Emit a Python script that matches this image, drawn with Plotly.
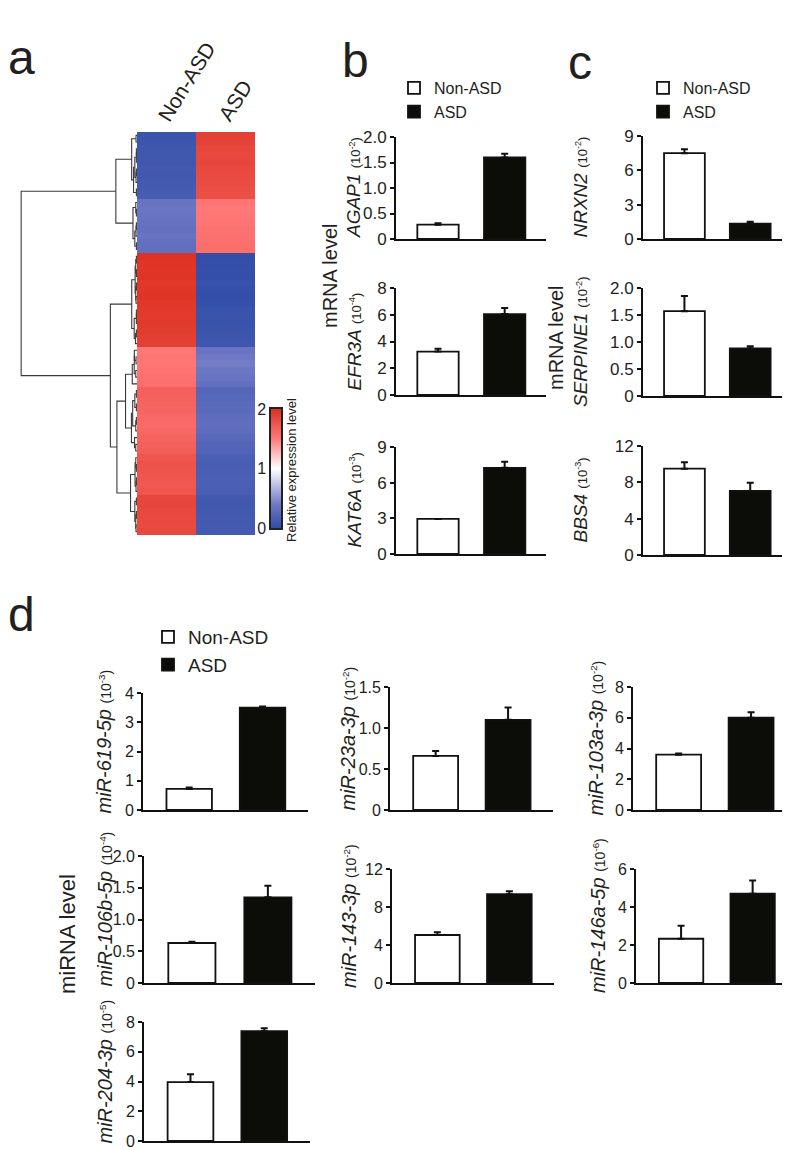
import numpy as np
import plotly.graph_objects as go

W, H = 790, 1150
FONT = "Arial, Liberation Sans, Helvetica, sans-serif"
TXT = "#231f20"
INK = "#111111"

# ---------------- data ----------------
groups = ["Non-ASD", "ASD"]

# heatmap: relative expression level per gene (rows, display order)
heat_nonasd = [0.08, 0.09, 0.10, 0.11, 0.10, 0.12, 0.11, 0.13, 0.14, 0.15,
               0.36, 0.38, 0.37, 0.35, 0.34, 0.36, 0.33, 0.32,
               1.97, 1.96, 1.95, 1.96, 1.94, 1.95, 1.96, 1.94, 1.93, 1.92, 1.93, 1.91, 1.90, 1.88,
               1.50, 1.52, 1.51, 1.53, 1.55, 1.57,
               1.66, 1.65, 1.64, 1.63, 1.60, 1.59, 1.61, 1.64, 1.66, 1.68,
               1.74, 1.76, 1.75, 1.73, 1.72, 1.74,
               1.84, 1.85, 1.83, 1.82, 1.81, 1.83]
heat_asd = [1.88, 1.86, 1.84, 1.83, 1.84, 1.82, 1.81, 1.80, 1.79, 1.78,
            1.52, 1.50, 1.51, 1.53, 1.54, 1.55, 1.56, 1.57,
            0.02, 0.03, 0.04, 0.03, 0.05, 0.04, 0.03, 0.04, 0.06, 0.07, 0.06, 0.08, 0.09, 0.10,
            0.36, 0.40, 0.42, 0.39, 0.37, 0.33,
            0.24, 0.25, 0.27, 0.28, 0.30, 0.31, 0.29, 0.26, 0.24, 0.22,
            0.18, 0.16, 0.17, 0.19, 0.18, 0.17,
            0.12, 0.11, 0.12, 0.13, 0.14, 0.13]
colorbar_ticks = [0, 1, 2]

# mRNA (panels b, c)
mrna_genes = ["AGAP1", "EFR3A", "KAT6A", "NRXN2", "SERPINE1", "BBS4"]
mrna_nonasd = [0.28, 3.25, 2.95, 7.5, 1.57, 9.5]
mrna_asd = [1.60, 6.05, 7.25, 1.35, 0.88, 7.05]
mrna_nonasd_err = [0.03, 0.20, 0.0, 0.35, 0.28, 0.70]
mrna_asd_err = [0.07, 0.45, 0.50, 0.15, 0.04, 0.90]
mrna_exp = ["-2", "-4", "-3", "-2", "-2", "-3"]
mrna_tickvals = [[0, 0.5, 1, 1.5, 2], [0, 2, 4, 6, 8], [0, 3, 6, 9],
                 [0, 3, 6, 9], [0, 0.5, 1, 1.5, 2], [0, 4, 8, 12]]
mrna_ticktext = [["0", "0.5", "1.0", "1.5", "2.0"], ["0", "2", "4", "6", "8"], ["0", "3", "6", "9"],
                 ["0", "3", "6", "9"], ["0", "0.5", "1.0", "1.5", "2.0"], ["0", "4", "8", "12"]]

# miRNA (panel d)
mirnas = ["miR-619-5p", "miR-23a-3p", "miR-103a-3p", "miR-106b-5p",
          "miR-143-3p", "miR-146a-5p", "miR-204-3p"]
mir_nonasd = [0.72, 0.66, 3.6, 0.63, 5.05, 2.33, 3.96]
mir_asd = [3.50, 1.10, 6.0, 1.35, 9.35, 4.70, 7.38]
mir_nonasd_err = [0.05, 0.06, 0.07, 0.02, 0.30, 0.68, 0.52]
mir_asd_err = [0.04, 0.15, 0.35, 0.18, 0.30, 0.70, 0.20]
mir_exp = ["-3", "-2", "-2", "-4", "-2", "-6", "-5"]
mir_tickvals = [[0, 1, 2, 3, 4], [0, 0.5, 1, 1.5], [0, 2, 4, 6, 8], [0, 0.5, 1, 1.5, 2],
                [0, 4, 8, 12], [0, 2, 4, 6], [0, 2, 4, 6, 8]]
mir_ticktext = [["0", "1", "2", "3", "4"], ["0", "0.5", "1.0", "1.5"], ["0", "2", "4", "6", "8"],
                ["0", "0.5", "1.0", "1.5", "2.0"], ["0", "4", "8", "12"], ["0", "2", "4", "6"],
                ["0", "2", "4", "6", "8"]]

# ---------------- layout helpers (pixel boxes) ----------------
def px_x(x):
    return x / W

def px_y(y):
    return 1 - y / H

fig = go.Figure()
layout = dict(width=W, height=H, margin=dict(l=0, r=0, t=0, b=0, autoexpand=False),
              paper_bgcolor="white", plot_bgcolor="white", barmode="overlay",
              font=dict(family=FONT, color=TXT), showlegend=True)
annotations = []

def label(text, x, y, size, angle=0, **kw):
    d = dict(text=text, x=px_x(x), y=px_y(y), xref="paper", yref="paper", showarrow=False,
             textangle=angle, xanchor="center", yanchor="middle",
             font=dict(size=size, family=FONT, color=TXT))
    d.update(kw)
    annotations.append(d)

# ---------------- panel a: heatmap + dendrogram ----------------
HM_X0, HM_X1, HM_Y0, HM_Y1 = 129, 247, 124, 527
rows = np.array([heat_nonasd, heat_asd]).T
n = len(rows)
colorscale = [[0, "#2f4ca6"], [0.2, "#6e78c4"], [0.5, "#ffffff"], [0.75, "#ff7878"], [1, "#dc2f1f"]]

# adjacency-constrained complete-linkage clustering (keeps display order)
clusters = [dict(m=[i], pos=float(i), h=0.0) for i in range(n)]
dx, dy = [], []
while len(clusters) > 1:
    best = None
    for k in range(len(clusters) - 1):
        a = rows[clusters[k]["m"]]
        b = rows[clusters[k + 1]["m"]]
        d = np.sqrt(((a[:, None, :] - b[None, :, :]) ** 2).sum(-1)).max()
        if best is None or d < best[0]:
            best = (d, k)
    d, k = best
    c1, c2 = clusters[k], clusters[k + 1]
    hgt = max(d, c1["h"], c2["h"])
    dx += [c1["h"], hgt, hgt, c2["h"], None]
    dy += [c1["pos"], c1["pos"], c2["pos"], c2["pos"], None]
    clusters[k:k + 2] = [dict(m=c1["m"] + c2["m"], pos=(c1["pos"] + c2["pos"]) / 2, h=hgt)]
root_h = clusters[0]["h"]

fig.add_trace(go.Scatter(x=dx, y=dy, mode="lines", line=dict(color="#3a3a3a", width=1.1),
                         xaxis="x", yaxis="y", showlegend=False, hoverinfo="skip"))
layout["xaxis"] = dict(domain=[px_x(12), px_x(HM_X0)], range=[root_h * 1.01, 0], visible=False,
                       anchor="y", automargin=False)
layout["yaxis"] = dict(domain=[px_y(HM_Y1), px_y(HM_Y0)], range=[n - 0.5, -0.5], visible=False,
                       anchor="x", automargin=False)

fig.add_trace(go.Heatmap(z=rows.tolist(), x=[0, 1], y=list(range(n)), colorscale=colorscale,
                         zmin=0, zmax=2, showscale=False, xaxis="x2", yaxis="y2",
                         hoverinfo="skip"))
layout["xaxis2"] = dict(domain=[px_x(HM_X0), px_x(HM_X1)], range=[-0.5, 1.5], visible=False,
                        anchor="y2", automargin=False)
layout["yaxis2"] = dict(domain=[px_y(HM_Y1), px_y(HM_Y0)], range=[n - 0.5, -0.5], visible=False,
                        anchor="x2", automargin=False)

for j, (g, xs) in enumerate(zip(groups, [-16, -14])):
    annotations.append(dict(text=g, x=j, y=px_y(HM_Y0), xref="x2", yref="paper",
                            xanchor="left", yanchor="bottom", textangle=-58,
                            xshift=xs, yshift=4, showarrow=False,
                            font=dict(size=21, family=FONT, color=TXT)))

# colour key
levels = np.linspace(0, 2, 121)
fig.add_trace(go.Heatmap(z=[[v] for v in levels], x=[0], y=levels.tolist(), colorscale=colorscale,
                         zmin=0, zmax=2, showscale=False, xaxis="x3", yaxis="y3",
                         hoverinfo="skip"))
layout["xaxis3"] = dict(domain=[px_x(263), px_x(273)], range=[-0.5, 0.5], showticklabels=False,
                        ticks="", showline=True, mirror=True, linecolor="#222", linewidth=1.5,
                        showgrid=False, zeroline=False, anchor="y3", automargin=False)
layout["yaxis3"] = dict(domain=[px_y(520), px_y(401)], range=[0, 2], tickvals=colorbar_ticks,
                        ticktext=[str(t) for t in colorbar_ticks], ticks="",
                        tickfont=dict(size=16, family=FONT, color=TXT),
                        showline=True, mirror=True, linecolor="#222", linewidth=1.5,
                        showgrid=False, zeroline=False, anchor="x3", automargin=False)
label("Relative expression level", 283, 462, 13, -90)

# ---------------- bar charts ----------------
bar_fill = ["#ffffff", "#0c0c09"]
XR = [-0.63, 1.62]

def bar_chart(ax, box, vals, errs, tvals, ttext, name, exp, tick_size, title_size, exp_size,
              title_off, title_dy, legend=None):
    x0, x1, ytop, ybot = box
    for j in range(2):
        fig.add_trace(go.Bar(
            x=[j], y=[vals[j]], width=0.62, name=groups[j],
            marker=dict(color=bar_fill[j], line=dict(color=INK, width=1.8)),
            error_y=dict(type="data", array=[errs[j]], arrayminus=[0], symmetric=False,
                         color=INK, thickness=2, width=3.5),
            xaxis=f"x{ax}", yaxis=f"y{ax}", hoverinfo="skip",
            showlegend=legend is not None, legend=legend if legend else "legend"))
    layout[f"xaxis{ax}"] = dict(domain=[px_x(x0), px_x(x1)], range=XR, showticklabels=False,
                                ticks="", showline=True, linecolor=INK, linewidth=1.8,
                                showgrid=False, zeroline=False, anchor=f"y{ax}", automargin=False)
    layout[f"yaxis{ax}"] = dict(
        domain=[px_y(ybot), px_y(ytop)], range=[0, tvals[-1]], tickvals=tvals, ticktext=ttext,
        ticks="outside", ticklen=4, tickwidth=1.5, tickcolor=INK, anchor=f"x{ax}", automargin=False,
        showline=True, linecolor=INK, linewidth=1.8, showgrid=False, zeroline=False,
        tickfont=dict(size=tick_size, family=FONT, color=TXT))
    label(f"<i>{name}</i> <span style='font-size:{exp_size}px'>(10<sup>{exp}</sup>)</span>",
          x0 - title_off, (ytop + ybot) / 2 + title_dy, title_size, -90)

mrna_boxes = [(388, 538, 129, 231), (388, 538, 280, 387), (388, 538, 439, 546),
              (635, 783, 128, 231), (635, 783, 280, 388), (635, 783, 438, 547)]
mrna_title_off = [42, 42, 42, 63, 63, 63]
ax = 4
for i in range(6):
    leg = None
    if i == 0:
        leg = "legend"
    if i == 3:
        leg = "legend2"
    bar_chart(ax, mrna_boxes[i], [mrna_nonasd[i], mrna_asd[i]], [mrna_nonasd_err[i], mrna_asd_err[i]],
              mrna_tickvals[i], mrna_ticktext[i], mrna_genes[i], mrna_exp[i], 17, 19, 13,
              mrna_title_off[i], 0, leg)
    ax += 1

mir_boxes = [(135, 300, 685, 802), (382, 545, 679, 802), (625, 788, 679, 802),
             (136, 307, 848, 975), (384, 546, 861, 975), (628, 789, 861, 975),
             (136, 302, 1014, 1133)]
mir_title_off = [40, 43, 38, 40, 43, 38, 40]
for i in range(7):
    leg = "legend3" if i == 0 else None
    bar_chart(ax, mir_boxes[i], [mir_nonasd[i], mir_asd[i]], [mir_nonasd_err[i], mir_asd_err[i]],
              mir_tickvals[i], mir_ticktext[i], mirnas[i], mir_exp[i], 16, 20, 14,
              mir_title_off[i], -10, leg)
    ax += 1

leg_common = dict(xanchor="left", yanchor="top", bgcolor="rgba(0,0,0,0)", tracegroupgap=0,
                  traceorder="normal", itemwidth=30, borderwidth=0)
layout["legend"] = dict(x=px_x(386), y=px_y(63), font=dict(size=16, family=FONT, color=TXT), **leg_common)
layout["legend2"] = dict(x=px_x(635), y=px_y(63), font=dict(size=16, family=FONT, color=TXT), **leg_common)
layout["legend3"] = dict(x=px_x(140), y=px_y(610), font=dict(size=19, family=FONT, color=TXT), **leg_common)

# side labels
label("mRNA level", 322, 268, 20, -90)
label("mRNA level", 548, 330, 20, -90)
label("miRNA level", 60, 926, 22, -90)

# panel letters
for letter, lx, ly in [("a", 13, 49), ("b", 347, 52), ("c", 572, 54), ("d", 13, 606)]:
    label(letter, lx, ly, 48)

layout["annotations"] = annotations
fig.update_layout(**layout)
fig.write_html("out.html")
